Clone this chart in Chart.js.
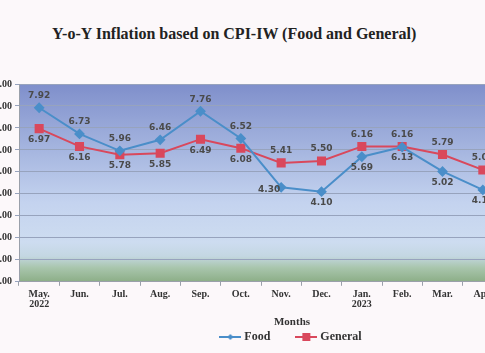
<!DOCTYPE html>
<html>
<head>
<meta charset="utf-8">
<script src="https://cdn.jsdelivr.net/npm/chart.js@4.4.0/dist/chart.umd.min.js"></script>
<style>
  html, body { margin: 0; padding: 0; }
  body { width: 485px; height: 353px; overflow: hidden; position: relative; background: #fcf8fa; }
  #title {
    position: absolute; left: 52px; top: 25px;
    font: bold 16px "Liberation Serif", "Times New Roman", serif; color: #222;
    white-space: nowrap;
  }
  /* the chart is wider than the window, cut on both sides like the scan */
  #wrap { position: absolute; left: -40px; top: 0; width: 664px; height: 353px; }
</style>
</head>
<body>
<div id="title">Y-o-Y Inflation based on CPI-IW (Food and General)</div>
<div id="wrap"><canvas id="cpiChart"></canvas></div>
<script>
// ---- data ----
const months = [['May.', '2022'], 'Jun.', 'Jul.', 'Aug.', 'Sep.', 'Oct.', 'Nov.', 'Dec.', ['Jan.', '2023'], 'Feb.', 'Mar.', 'Apr.'];
const foodInflation = [7.92, 6.73, 5.96, 6.46, 7.76, 6.52, 4.30, 4.10, 5.69, 6.13, 5.02, 4.18];
const generalInflation = [6.97, 6.16, 5.78, 5.85, 6.49, 6.08, 5.41, 5.50, 6.16, 6.16, 5.79, 5.09];
const yTicks = [0, 1, 2, 3, 4, 5, 6, 7, 8, 9];

// where each value label sits relative to its point
const foodLabelPos = ['top', 'top', 'top', 'top', 'top', 'top', 'left', 'bottom', 'bottom', 'bottom', 'bottom', 'bottom'];
const generalLabelPos = ['bottom', 'bottom', 'bottom', 'bottom', 'bottom', 'bottom', 'top', 'top', 'top', 'top', 'top', 'top'];

const FOOD = '#4a8ec9';
const GENERAL = '#d9485c';
const serif = '"Liberation Serif", "Times New Roman", serif';

// legend swatch: line with marker in the middle
function legendSwatch(color, marker) {
  const c = document.createElement('canvas');
  c.width = 22; c.height = 10;
  const g = c.getContext('2d');
  g.strokeStyle = color; g.lineWidth = 2;
  g.beginPath(); g.moveTo(0, 5); g.lineTo(22, 5); g.stroke();
  g.fillStyle = color;
  if (marker === 'rect') {
    g.fillRect(7, 1, 8, 8);
  } else {
    g.beginPath(); g.moveTo(11, 2); g.lineTo(14, 5); g.lineTo(11, 8); g.lineTo(8, 5); g.closePath(); g.fill();
  }
  return c;
}

// plot area gradient (blue → pale → green at the floor)
const plotBackground = {
  id: 'plotBackground',
  beforeDatasetsDraw(chart) {
    const { ctx, chartArea: a } = chart;
    const grad = ctx.createLinearGradient(0, a.top, 0, a.bottom);
    grad.addColorStop(0, '#7f8fcb');
    grad.addColorStop(0.33, '#a5b5df');
    grad.addColorStop(0.6, '#c4d3ef');
    grad.addColorStop(0.8, '#cddcf0');
    grad.addColorStop(0.87, '#c4d7e2');
    grad.addColorStop(0.93, '#a8c5ac');
    grad.addColorStop(1, '#8cae87');
    ctx.save();
    ctx.globalCompositeOperation = 'destination-over';
    ctx.fillStyle = grad;
    ctx.fillRect(a.left, a.top, a.right - a.left, a.bottom - a.top);
    ctx.restore();
  }
};

// legend + "Months" are centred on the whole (wider) chart, not the plot
const legendSpan = {
  id: 'legendSpan',
  afterLayout(chart) {
    const lg = chart.legend;
    if (!lg) return;
    lg.left = 0;
    lg.right = chart.width;
    lg.width = chart.width;
  }
};

// value labels next to points
const valueLabels = {
  id: 'valueLabels',
  afterDatasetsDraw(chart) {
    const ctx = chart.ctx;
    ctx.save();
    ctx.font = 'bold 9px "DejaVu Sans", Verdana, sans-serif';
    ctx.fillStyle = '#4a4a4a';
    ctx.textAlign = 'center';
    ctx.textBaseline = 'middle';
    chart.data.datasets.forEach((ds, i) => {
      const pos = i === 0 ? foodLabelPos : generalLabelPos;
      chart.getDatasetMeta(i).data.forEach((pt, j) => {
        let x = pt.x, y = pt.y;
        if (pos[j] === 'top') y -= 12;
        else if (pos[j] === 'bottom') y += 11;
        else { x -= 12; y += 2; }
        ctx.fillText(ds.data[j].toFixed(2), x, y);
      });
    });
    ctx.restore();
  }
};

new Chart(document.getElementById('cpiChart'), {
  type: 'line',
  data: {
    labels: months,
    datasets: [{
      label: 'Food',
      data: foodInflation,
      borderColor: FOOD,
      backgroundColor: FOOD,
      borderWidth: 2,
      pointStyle: 'rectRot',
      pointRadius: 4,
      tension: 0,
    }, {
      label: 'General',
      data: generalInflation,
      borderColor: GENERAL,
      backgroundColor: GENERAL,
      borderWidth: 2,
      pointStyle: 'rect',
      pointRadius: 5,
      tension: 0,
    }],
  },
  options: {
    responsive: true,
    maintainAspectRatio: false,
    animation: false,
    layout: { padding: { top: 84, right: 121, left: 0, bottom: 0 } },
    plugins: {
      tooltip: { enabled: false },
      legend: {
        position: 'bottom',
        title: {
          display: true,
          text: 'Months',
          color: '#333',
          font: { family: serif, size: 11, weight: 'bold', lineHeight: 1.2 },
          padding: { top: 6, bottom: 0 },
        },
        labels: {
          color: '#333',
          font: { family: serif, size: 12, weight: 'bold' },
          usePointStyle: true,
          pointStyleWidth: 16,
          padding: 1,
          generateLabels: chart => chart.data.datasets.map((ds, i) => ({
            // trailing spaces give the gap between the two entries
            text: i === 0 ? ds.label + '         ' : ds.label,
            pointStyle: legendSwatch(ds.borderColor, i === 0 ? 'rectRot' : 'rect'),
            fillStyle: ds.borderColor,
            strokeStyle: ds.borderColor,
            lineWidth: 0,
            fontColor: '#333',
            datasetIndex: i,
          })),
        },
      },
    },
    scales: {
      x: {
        offset: true,
        afterFit: scale => { scale.height = 29; },
        grid: { offset: true, drawOnChartArea: false, color: '#9aa0aa', tickLength: 4 },
        border: { color: '#9aa0aa' },
        ticks: {
          color: '#333',
          padding: 4,
          maxRotation: 0,
          autoSkip: false,
          font: { family: serif, size: 10, weight: 'bold', lineHeight: 1.0 },
        },
      },
      y: {
        min: 0,
        max: 9,
        afterFit: scale => { scale.width = 59; },
        afterBuildTicks: scale => { scale.ticks = yTicks.map(v => ({ value: v })); },
        grid: { color: '#97a3bd', tickLength: 4 },
        border: { color: '#9aa0aa' },
        ticks: {
          color: '#333',
          padding: 3,
          font: { family: serif, size: 10, weight: 'bold' },
          callback: v => v.toFixed(2),
        },
      },
    },
  },
  plugins: [plotBackground, legendSpan, valueLabels],
});
</script>
</body>
</html>
